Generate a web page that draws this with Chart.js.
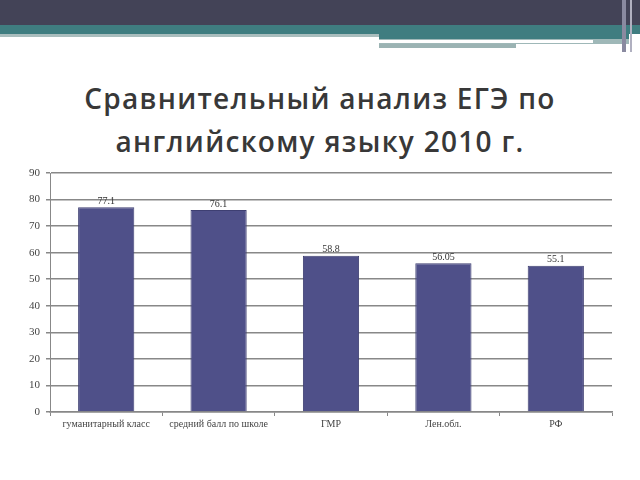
<!DOCTYPE html>
<html>
<head>
<meta charset="utf-8">
<script src="https://cdn.jsdelivr.net/npm/chart.js@4"></script>
<style>
    html, body { margin: 0; padding: 0; background: #fff; }
    body { width: 640px; height: 480px; position: relative; overflow: hidden; }
    .band { position: absolute; }
    #title {
        position: absolute; left: 0; top: 77px; width: 640px; text-align: center;
        font-family: "Open Sans", sans-serif; font-weight: 600; font-size: 28px;
        line-height: 43px; color: #383838; letter-spacing: 1.3px;
    }
    #chartBox { position: absolute; left: 0; top: 160px; width: 640px; height: 280px; }
</style>
</head>
<body>
<div class="band" style="left:0;top:0;width:640px;height:25px;background:#434357;"></div>
<div class="band" style="left:0;top:25px;width:640px;height:9px;background:#3f7d80;"></div>
<div class="band" style="left:0;top:34px;width:379px;height:3px;background:#a9bdbd;"></div>
<div class="band" style="left:379px;top:34px;width:250px;height:5px;background:#3f7d80;"></div>
<div class="band" style="left:379px;top:39px;width:250px;height:5px;background:#9fb8b8;"></div>
<div class="band" style="left:379px;top:40px;width:214px;height:3px;background:#ffffff;"></div>
<div class="band" style="left:379px;top:44px;width:137px;height:4px;background:#9bb3b3;"></div>
<div class="band" style="left:622px;top:0;width:4px;height:52px;background:#8a8aa0;"></div>
<div class="band" style="left:630px;top:0;width:2px;height:52px;background:#b0b0c0;"></div>

<div id="title">Сравнительный анализ ЕГЭ по<br>английскому языку 2010 г.</div>

<div id="chartBox"><canvas id="examChart"></canvas></div>

<script>
const categories = ['гуманитарный класс', 'средний балл по школе', 'ГМР', 'Лен.обл.', 'РФ'];
const scores = [77.1, 76.1, 58.8, 56.05, 55.1];
const scoreLabels = ['77.1', '76.1', '58.8', '56.05', '55.1'];

document.addEventListener('DOMContentLoaded', function () {
    Chart.defaults.font.family = "'Liberation Serif', 'DejaVu Serif', serif";

    // value labels above each bar
    const valueLabels = {
        id: 'valueLabels',
        afterDatasetsDraw(chart) {
            const ctx = chart.ctx;
            const meta = chart.getDatasetMeta(0);
            ctx.save();
            ctx.font = "10px 'Liberation Serif', serif";
            ctx.fillStyle = '#333';
            ctx.textAlign = 'center';
            ctx.textBaseline = 'bottom';
            meta.data.forEach(function (bar, i) {
                ctx.fillText(scoreLabels[i], bar.x, bar.y - 1);
            });
            ctx.restore();
        }
    };

    const ctx = document.getElementById('examChart').getContext('2d');
    new Chart(ctx, {
        type: 'bar',
        data: {
            labels: categories,
            datasets: [{
                data: scores,
                backgroundColor: '#4f5089',
                borderColor: '#3e3f72',
                borderWidth: 1,
                categoryPercentage: 1,
                barPercentage: 0.5
            }]
        },
        options: {
            responsive: true,
            maintainAspectRatio: false,
            animation: false,
            layout: { padding: { top: 13, right: 28, left: 0, bottom: 0 } },
            plugins: {
                legend: { display: false },
                tooltip: { enabled: false }
            },
            scales: {
                y: {
                    min: 0,
                    max: 90,
                    ticks: {
                        stepSize: 10,
                        color: '#444',
                        padding: 6,
                        font: { size: 11 }
                    },
                    grid: { color: '#888', lineWidth: 1.5, tickLength: 4 },
                    border: { color: '#888', width: 1 },
                    afterFit: function (scale) { scale.width = 50; }
                },
                x: {
                    ticks: {
                        color: '#444',
                        padding: 2,
                        font: { size: 10 }
                    },
                    grid: { drawOnChartArea: false, color: '#888', tickLength: 4, offset: true },
                    border: { color: '#888', width: 1.5 },
                    afterFit: function (scale) { scale.height = 28; }
                }
            }
        },
        plugins: [valueLabels]
    });
});
</script>
</body>
</html>
